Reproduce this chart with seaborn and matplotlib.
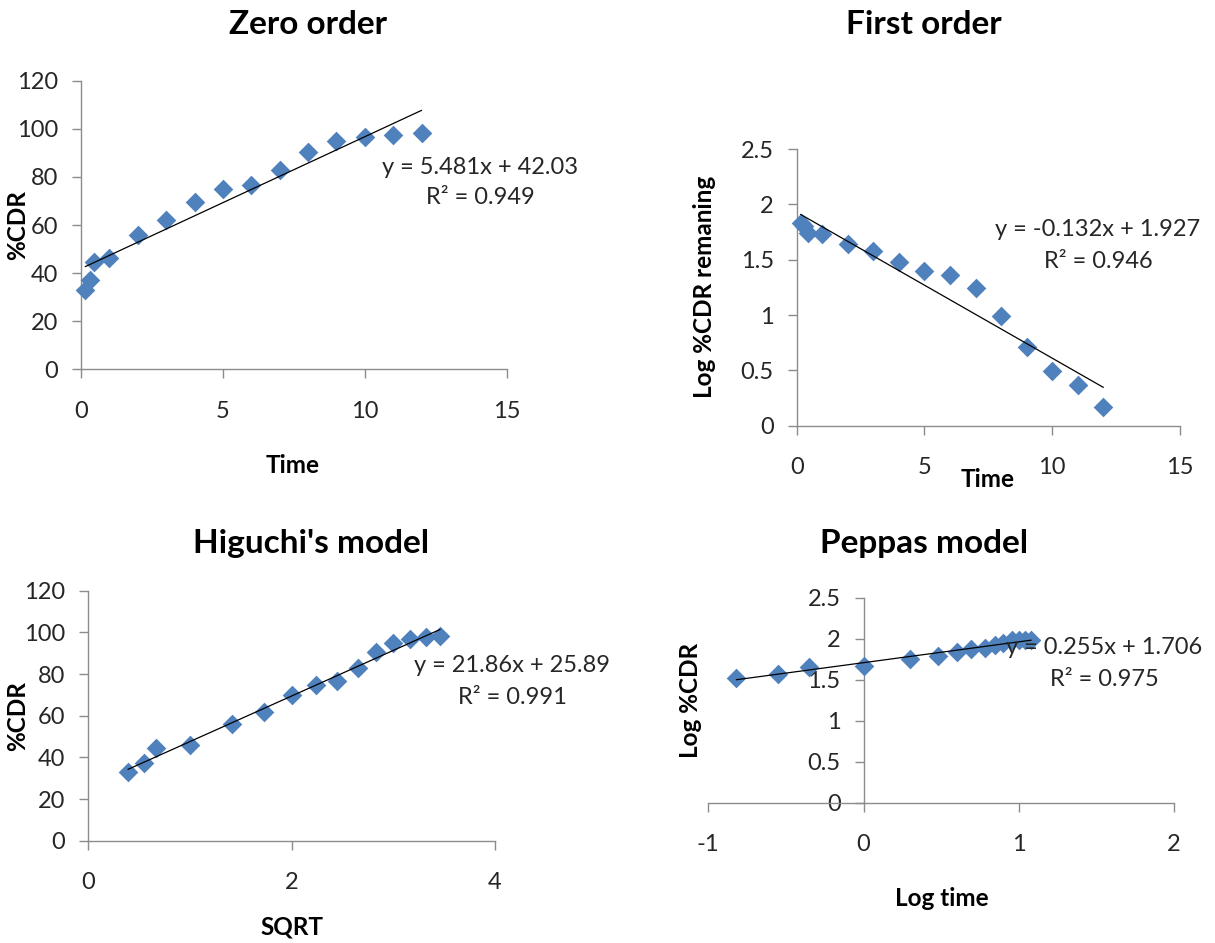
"""Release kinetics fits: zero order, first order, Higuchi and Peppas."""
import matplotlib
matplotlib.use("Agg")
import matplotlib.pyplot as plt
import pandas as pd
import seaborn as sns

W, H = 1215, 943

# data
time_h = [0.15, 0.3, 0.45, 1, 2, 3, 4, 5, 6, 7, 8, 9, 10, 11, 12]
sqrt_time = [0.39, 0.55, 0.67, 1.0, 1.41, 1.73, 2.0, 2.24, 2.45, 2.65, 2.83, 3.0, 3.16, 3.32, 3.46]
log_time = [-0.82, -0.55, -0.35, 0.0, 0.30, 0.48, 0.60, 0.69, 0.78, 0.845, 0.90, 0.955, 1.0, 1.04, 1.08]
cdr = [33.1, 37.1, 44.7, 46.1, 55.8, 62.0, 69.7, 74.9, 76.8, 82.7, 90.4, 94.8, 96.7, 97.6, 98.3]
log_cdr_remaining = [1.83, 1.80, 1.74, 1.73, 1.64, 1.58, 1.48, 1.40, 1.36, 1.24, 0.99, 0.71, 0.49, 0.37, 0.17]
log_cdr = [1.52, 1.57, 1.66, 1.67, 1.75, 1.79, 1.84, 1.87, 1.89, 1.92, 1.95, 1.98, 1.99, 1.99, 1.99]

titles = ["Zero order", "First order", "Higuchi's model", "Peppas model"]
x_labels = ["Time", "Time", "SQRT", "Log time"]
y_labels = ["%CDR", "Log %CDR remaning", "%CDR", "Log %CDR"]
equations = ["y = 5.481x + 42.03", "y = -0.132x + 1.927", "y = 21.86x + 25.89", "y = 0.255x + 1.706"]
r_squared = ["R² = 0.949", "R² = 0.946", "R² = 0.991", "R² = 0.975"]

BLUE = "#4F81BD"
AXIS = "#8C8C8C"
TEXT = "#262626"

sns.set_theme(style="white")
plt.rcParams["font.family"] = ["Lato", "DejaVu Sans"]
plt.rcParams["axes.unicode_minus"] = False


def fx(px):
    return px / W


def fy(py):
    return 1 - py / H


def make_axes(fig, x0, x1, y_top, y_bot):
    return fig.add_axes([fx(x0), fy(y_bot), (x1 - x0) / W, (y_bot - y_top) / H])


def style_axes(ax, xlim, xticks, ylim, yticks):
    ax.set_xlim(*xlim)
    ax.set_ylim(*ylim)
    ax.set_xticks(xticks)
    ax.set_xticklabels([f"{v:g}" for v in xticks])
    ax.set_yticks(yticks)
    ax.set_yticklabels([f"{v:g}" for v in yticks])
    for side in ("top", "right"):
        ax.spines[side].set_visible(False)
    for side in ("left", "bottom"):
        ax.spines[side].set_color(AXIS)
        ax.spines[side].set_linewidth(1.0)
    ax.tick_params(axis="both", direction="out", length=6.5, width=1.0,
                   color=AXIS, labelcolor=TEXT, labelsize=17,
                   bottom=True, left=True)
    ax.tick_params(axis="x", pad=16)
    ax.tick_params(axis="y", pad=10)
    ax.set_xlabel("")
    ax.set_ylabel("")
    ax.patch.set_alpha(0)


def draw(ax, x, y):
    df = pd.DataFrame({"x": x, "y": y})
    sns.scatterplot(data=df, x="x", y="y", ax=ax, marker="D", s=100,
                    color=BLUE, linewidth=0, zorder=3, clip_on=False)
    sns.regplot(data=df, x="x", y="y", ax=ax, scatter=False, ci=None,
                truncate=True, line_kws={"color": "black", "lw": 0.9, "zorder": 4})


fig = plt.figure(figsize=(W / 100, H / 100), dpi=100)

# Zero order
ax1 = make_axes(fig, 81, 506.7, 80.7, 369.3)
draw(ax1, time_h, cdr)
style_axes(ax1, (0, 15), [0, 5, 10, 15], (0, 120), [0, 20, 40, 60, 80, 100, 120])

# First order
ax2 = make_axes(fig, 796.7, 1180, 149, 425.7)
draw(ax2, time_h, log_cdr_remaining)
style_axes(ax2, (0, 15), [0, 5, 10, 15], (0, 2.5), [0, 0.5, 1, 1.5, 2, 2.5])

# Higuchi
ax3 = make_axes(fig, 88.3, 495, 590.7, 840.7)
draw(ax3, sqrt_time, cdr)
style_axes(ax3, (0, 4), [0, 2, 4], (0, 120), [0, 20, 40, 60, 80, 100, 120])

# Peppas
ax4 = make_axes(fig, 708.3, 1174, 597.7, 802.7)
draw(ax4, log_time, log_cdr)
style_axes(ax4, (-1, 2), [-1, 0, 1, 2], (0, 2.5), [0, 0.5, 1, 1.5, 2, 2.5])
ax4.spines["left"].set_position(("data", 0))

# titles
title_pos = [(308, 25), (924, 25), (311, 543), (924, 543)]
for (px, py), t in zip(title_pos, titles):
    fig.text(fx(px), fy(py), t, ha="center", va="center", fontsize=24,
             fontweight="bold", color="black")

# axis labels
xlab_pos = [(293, 465), (988, 480), (292, 927), (942, 898)]
for (px, py), t in zip(xlab_pos, x_labels):
    fig.text(fx(px), fy(py), t, ha="center", va="center", fontsize=17.5,
             fontweight="bold", color="black")

ylab_pos = [(18, 225), (705, 287), (18, 716), (690, 700)]
for (px, py), t in zip(ylab_pos, y_labels):
    fig.text(fx(px), fy(py), t, ha="center", va="center", fontsize=17.5,
             fontweight="bold", color="black", rotation=90)

# trendline labels
eq_pos = [(480, 167, 197), (1098, 230, 262), (512, 665, 697), (1104, 647, 679)]
for (px, py1, py2), eq, r2 in zip(eq_pos, equations, r_squared):
    fig.text(fx(px), fy(py1), eq, ha="center", va="center", fontsize=17, color=TEXT)
    fig.text(fx(px), fy(py2), r2, ha="center", va="center", fontsize=17, color=TEXT)

fig.savefig("out.png", dpi=100)
plt.close(fig)
